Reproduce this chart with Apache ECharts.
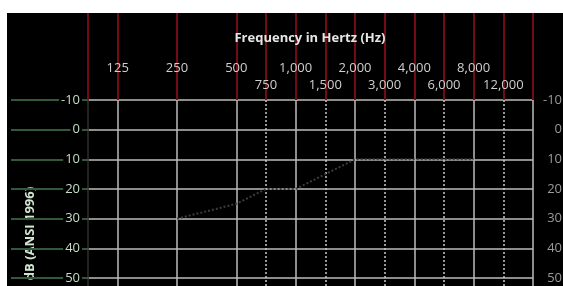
<!DOCTYPE html>
<html>
<head>
<meta charset="utf-8">
<script src="https://cdn.jsdelivr.net/npm/echarts@6/dist/echarts.min.js"></script>
<style>
  html, body { margin: 0; padding: 0; background: #fff; }
  #chart { position: absolute; left: 7px; top: 13px; width: 556px; height: 273px; background: #000; }
</style>
</head>
<body>
<div id="chart"></div>
<script>
// frequency slots along the top, octaves plus half-octaves (blank slots are unlabelled)
var freqSlots = ['88', '125', '177', '250', '354', '500', '750', '1000', '1500', '2000', '3000', '4000', '6000', '8000', '12000', '16000'];
var octaveLabels = ['125', '250', '500', '1000', '2000', '4000', '8000'];
var halfLabels = ['750', '1500', '3000', '6000', '12000'];
var redSlots = ['88', '125', '250', '500', '750', '1000', '1500', '2000', '3000', '4000', '6000', '8000', '12000', '16000'];
var solidSlots = ['125', '250', '500', '1000', '2000', '4000', '8000', '16000'];

// hearing levels (dB)
var dbTicks = [-10, 0, 10, 20, 30, 40, 50, 60, 70, 80];
var thrFreqs = ['250', '500', '750', '1000', '1500', '2000', '3000', '4000', '6000', '8000'];
var thrDb = [30, 25, 20, 20, 15, 10, 10, 10, 10, 10];

function fmtFreq(v) {
    return Number(v).toLocaleString('en-US');
}

var myChart = echarts.init(document.getElementById('chart'));
var option = {
    textStyle: { fontFamily: 'Open Sans' },
    animation: false,
    // 标题 drawn above the red guide lines
    title: {
        text: 'Frequency in Hertz (Hz)',
        left: 303,
        top: 19,
        textAlign: 'center',
        padding: 0,
        z: 20,
        textStyle: { color: '#e6e6e6', fontWeight: 'bold', fontSize: 13, fontFamily: 'Open Sans' }
    },
    grid: { left: 81, top: 87, width: 445, height: 267, outerBoundsMode: 'none', containLabel: false },
    xAxis: [{
        type: 'category',
        position: 'top',
        boundaryGap: false,
        data: freqSlots,
        axisLine: { show: false, onZero: false },
        axisTick: {
            show: true,
            length: 87,
            interval: function (i, v) { return redSlots.indexOf(v) >= 0; },
            lineStyle: { color: '#740a14', width: 2 }
        },
        axisLabel: {
            interval: 0,
            margin: 8,
            color: '#cfcfcf',
            fontSize: 13,
            formatter: function (v) {
                if (octaveLabels.indexOf(v) >= 0) return '{o|' + fmtFreq(v) + '}';
                if (halfLabels.indexOf(v) >= 0) return '{h|' + fmtFreq(v) + '}';
                return '';
            },
            rich: {
                o: { color: '#cfcfcf', fontSize: 13, padding: [0, 0, 17, 0] },
                h: { color: '#cfcfcf', fontSize: 13 }
            }
        },
        splitLine: {
            show: true,
            interval: function (i, v) { return solidSlots.indexOf(v) >= 0; },
            lineStyle: { color: '#bdbdbd', width: 1.5 }
        }
    }, {
        type: 'category',
        position: 'bottom',
        boundaryGap: false,
        data: freqSlots,
        axisLine: { show: false, onZero: false },
        axisTick: { show: false },
        axisLabel: { show: false },
        splitLine: {
            show: true,
            interval: function (i, v) { return halfLabels.indexOf(v) >= 0; },
            lineStyle: { color: '#c8c8c8', width: 1.5, type: [2, 2] }
        }
    }],
    yAxis: [{
        type: 'value',
        position: 'left',
        inverse: true,
        min: dbTicks[0],
        max: dbTicks[dbTicks.length - 1],
        interval: 10,
        name: 'dB (ANSI 1996)',
        nameLocation: 'middle',
        nameRotate: 90,
        nameGap: 51,
        nameTextStyle: { color: '#d2e6d2', fontWeight: 'bold', fontSize: 13 },
        axisLine: { show: true, onZero: false, lineStyle: { color: '#2e2e2e', width: 1.5 } },
        axisTick: { show: true, length: 77, lineStyle: { color: '#34583a', width: 2 } },
        axisLabel: {
            color: '#c6dcc6',
            fontSize: 13,
            margin: 6,
            showMinLabel: true,
            showMaxLabel: true,
            backgroundColor: '#000',
            padding: [0, 2]
        },
        splitLine: { show: true, lineStyle: { color: '#bdbdbd', width: 1.5 } }
    }, {
        type: 'value',
        position: 'right',
        inverse: true,
        min: dbTicks[0],
        max: dbTicks[dbTicks.length - 1],
        interval: 10,
        axisLine: { show: false, onZero: false },
        axisTick: { show: false },
        axisLabel: { color: '#9a9a9a', fontSize: 13, margin: 29, align: 'right', showMinLabel: true },
        splitLine: { show: false }
    }],
    series: [{
        type: 'line',
        xAxisIndex: 0,
        yAxisIndex: 0,
        symbol: 'none',
        lineStyle: { color: '#3c3c3c', width: 2, type: 'dotted' },
        data: thrFreqs.map(function (f, i) { return [freqSlots.indexOf(f), thrDb[i]]; })
    }]
};
myChart.setOption(option);
</script>
</body>
</html>
